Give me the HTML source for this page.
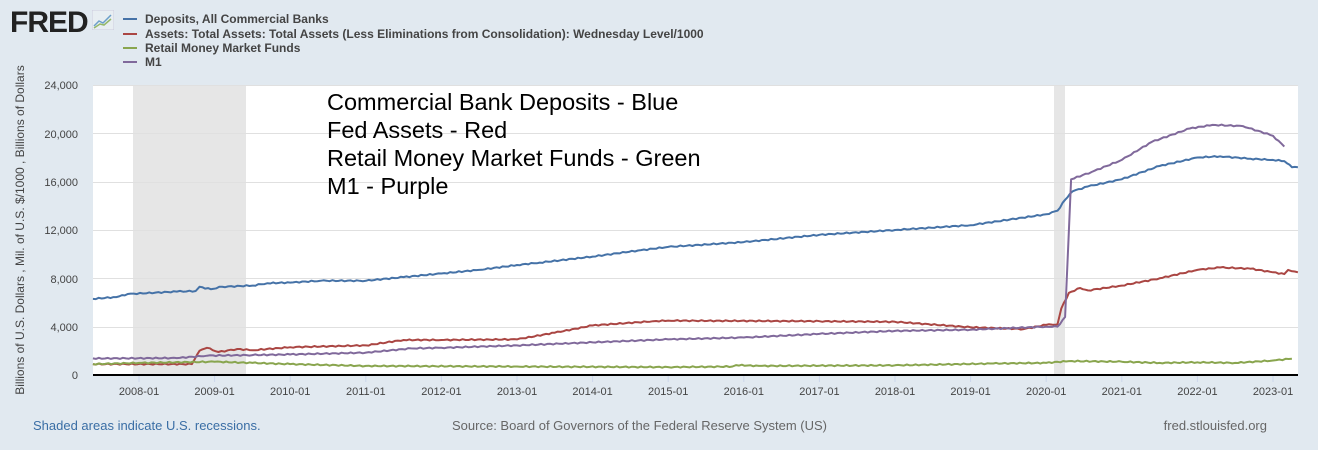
<!DOCTYPE html>
<html><head><meta charset="utf-8"><style>
body{margin:0;width:1318px;height:450px;background:#e1e9f0;font-family:"Liberation Sans",sans-serif;overflow:hidden;position:relative}
.t{position:absolute;white-space:nowrap}
</style></head><body>
<div class="t" style="left:10px;top:6px;font-size:30px;font-weight:bold;color:#222;letter-spacing:-1px">FRED</div>
<svg class="t" style="left:92px;top:10px" width="22" height="20"><rect width="22" height="20" fill="#e8eef2" stroke="#ccd" /><polyline points="2,16 7,11 11,13 19,5" fill="none" stroke="#6b9fc9" stroke-width="1.5"/><polyline points="2,18 8,14 12,15 19,9" fill="none" stroke="#94b86a" stroke-width="1.5"/></svg>
<svg class="t" style="left:0;top:0" width="1318" height="450" id="s">
<g font-size="12" fill="#444" font-family="Liberation Sans" font-weight="bold">
<line x1="123" y1="19" x2="137" y2="19" stroke="#4572a7" stroke-width="2"/><text x="145" y="23">Deposits, All Commercial Banks</text>
<line x1="123" y1="34" x2="137" y2="34" stroke="#aa4643" stroke-width="2"/><text x="145" y="38">Assets: Total Assets: Total Assets (Less Eliminations from Consolidation): Wednesday Level/1000</text>
<line x1="123" y1="48" x2="137" y2="48" stroke="#89a54e" stroke-width="2"/><text x="145" y="52">Retail Money Market Funds</text>
<line x1="123" y1="62" x2="137" y2="62" stroke="#80699b" stroke-width="2"/><text x="145" y="66">M1</text>
</g>
<rect x="93" y="85" width="1205" height="290" fill="#fff"/>
<rect x="133" y="85" width="113" height="290" fill="#e6e6e6"/>
<rect x="1054" y="85" width="11" height="290" fill="#e6e6e6"/>
<g stroke="#e0e0e0" stroke-width="1">
<line x1="93" x2="1298" y1="85.5" y2="85.5"/><line x1="93" x2="1298" y1="133.5" y2="133.5"/><line x1="93" x2="1298" y1="182.5" y2="182.5"/><line x1="93" x2="1298" y1="230.5" y2="230.5"/><line x1="93" x2="1298" y1="278.5" y2="278.5"/><line x1="93" x2="1298" y1="327.5" y2="327.5"/>
</g>
<g font-size="11" fill="#444" text-anchor="end">
<text x="78" y="89">24,000</text><text x="78" y="138">20,000</text><text x="78" y="186">16,000</text><text x="78" y="234">12,000</text><text x="78" y="283">8,000</text><text x="78" y="331">4,000</text><text x="78" y="379">0</text>
</g>
<text transform="translate(24,230) rotate(-90)" font-size="12" fill="#444" text-anchor="middle">Billions of U.S. Dollars , Mil. of U.S. $/1000 , Billions of Dollars</text>
<g id="lines" fill="none" stroke-width="2" stroke-linejoin="round"></g>
<line x1="93" x2="1298" y1="375" y2="375" stroke="#000" stroke-width="2"/>
<g id="ticks" font-size="11" fill="#444" text-anchor="middle"></g>
<g font-size="23.5" fill="#000"><text x="327" y="110">Commercial Bank Deposits - Blue</text><text x="327" y="138">Fed Assets - Red</text><text x="327" y="166">Retail Money Market Funds - Green</text><text x="327" y="194">M1 - Purple</text></g>
<g font-size="13"><text x="33" y="430" fill="#3a6ea5">Shaded areas indicate U.S. recessions.</text><text x="452" y="430" fill="#666">Source: Board of Governors of the Federal Reserve System (US)</text><text x="1267" y="430" fill="#666" text-anchor="end">fred.stlouisfed.org</text></g>
</svg>
<script>
var X=t=>139+(t-2008)*75.6, Y=v=>375-v*290/24000;
var NS="http://www.w3.org/2000/svg";
var tk=document.getElementById('ticks');
for(var y=2008;y<=2023;y++){var x=X(y);
 var l=document.createElementNS(NS,'line');l.setAttribute('x1',x);l.setAttribute('x2',x);l.setAttribute('y1',376);l.setAttribute('y2',382);l.setAttribute('stroke','#ccd6eb');tk.appendChild(l);
 var t=document.createElementNS(NS,'text');t.setAttribute('x',x);t.setAttribute('y',395);t.textContent=y+'-01';tk.appendChild(t);}
var S=[
["#4572a7",[[2007.39,6300],[2007.7,6450],[2007.85,6700],[2008.5,6900],[2008.75,6950],[2008.8,7300],[2008.95,7100],[2009.1,7300],[2009.5,7400],[2009.7,7600],[2010,7650],[2010.4,7800],[2011,7800],[2011.5,8100],[2012,8400],[2012.5,8700],[2013,9100],[2013.3,9300],[2014,9800],[2014.6,10300],[2015,10600],[2016,11000],[2017,11600],[2018,12000],[2019,12400],[2020,13300],[2020.15,13600],[2020.25,14500],[2020.35,15200],[2020.55,15600],[2021,16200],[2021.5,17300],[2022,18000],[2022.3,18100],[2022.7,17900],[2023.0,17800],[2023.15,17700],[2023.25,17200],[2023.33,17200]]],
["#aa4643",[[2007.39,900],[2008.7,900],[2008.8,2000],[2008.9,2250],[2009.05,1900],[2009.3,2150],[2009.5,2050],[2010,2300],[2011,2450],[2011.5,2900],[2012,2900],[2013,2950],[2013.5,3500],[2014,4100],[2014.8,4450],[2015,4500],[2017,4450],[2018,4400],[2019,3950],[2019.7,3800],[2020,4150],[2020.15,4200],[2020.2,5500],[2020.3,6800],[2020.45,7200],[2020.55,7000],[2021,7400],[2021.5,8000],[2022,8700],[2022.3,8900],[2022.7,8800],[2023,8500],[2023.15,8350],[2023.2,8700],[2023.33,8500]]],
["#89a54e",[[2007.39,900],[2008,1000],[2009,1100],[2009.5,1000],[2010,900],[2011,750],[2013,700],[2015,650],[2015.85,700],[2015.9,820],[2016.2,750],[2018,800],[2019.3,950],[2020,1000],[2020.3,1150],[2021,1100],[2021.5,1000],[2022,1050],[2022.5,1000],[2023,1200],[2023.25,1350]]],
["#80699b",[[2007.39,1370],[2008.5,1400],[2008.9,1600],[2009.5,1650],[2010,1700],[2011,1850],[2011.6,2200],[2012,2250],[2013,2450],[2014,2700],[2015,2950],[2016,3100],[2017,3400],[2018,3650],[2019,3750],[2020,4000],[2020.15,4000],[2020.25,4800],[2020.33,16200],[2020.6,16800],[2021,17800],[2021.4,19300],[2021.9,20400],[2022.2,20700],[2022.6,20600],[2023,19800],[2023.15,18900]]]
];
var g=document.getElementById('lines');
S.forEach(function(s){var p=s[1],pts=[];
 for(var i=0;i<p.length-1;i++){var a=p[i],b=p[i+1];var n=Math.max(1,Math.round((X(b[0])-X(a[0]))/3));
  for(var k=0;k<n;k++){var f=k/n;var v=a[1]+(b[1]-a[1])*f;pts.push(X(a[0]+(b[0]-a[0])*f).toFixed(1)+','+(Y(v)+(k>0?Math.sin(i*7+k*2.3)*0.6:0)).toFixed(1));}}
 var l=p[p.length-1];pts.push(X(l[0]).toFixed(1)+','+Y(l[1]).toFixed(1));
 var e=document.createElementNS(NS,'polyline');e.setAttribute('points',pts.join(' '));e.setAttribute('stroke',s[0]);g.appendChild(e);});
</script>
</body></html>
